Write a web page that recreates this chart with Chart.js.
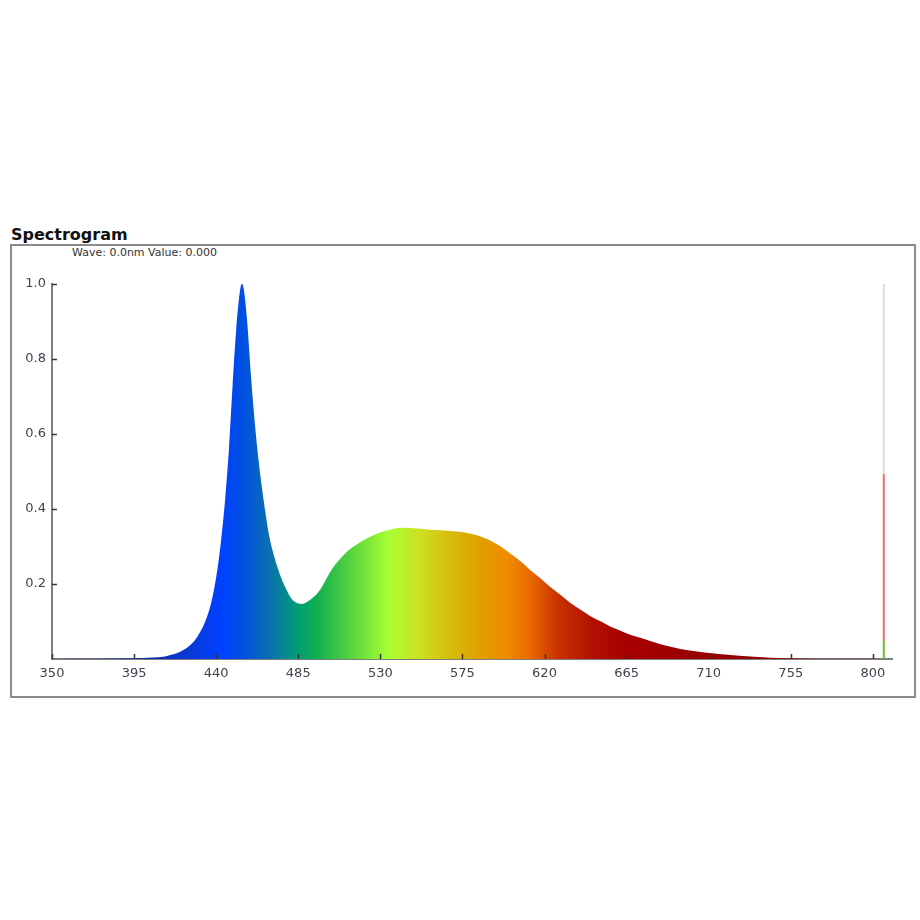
<!DOCTYPE html>
<html>
<head>
<meta charset="utf-8">
<title>Spectrogram</title>
<script src="https://cdn.jsdelivr.net/npm/chart.js@4/dist/chart.umd.min.js"></script>
<style>
  body { margin: 0; width: 920px; height: 920px; background: #fff; position: relative; overflow: hidden; }
  #frame { position: absolute; left: 10px; top: 244px; width: 906px; height: 454px; box-sizing: border-box; border: 2px solid #8c8c8c; }
  #title { position: absolute; left: 11px; top: 226px; font: bold 16px "DejaVu Sans", sans-serif; line-height: 18px; color: #111; }
  #readout { position: absolute; left: 72px; top: 246px; font: 11px "DejaVu Sans", sans-serif; line-height: 14px; color: #333; }
  canvas { position: absolute; left: 0; top: 0; }
</style>
</head>
<body>
<div id="frame"></div>
<div id="title">Spectrogram</div>
<div id="readout">Wave: 0.0nm Value: 0.000</div>
<canvas id="spectrumChart" width="920" height="920"></canvas>
<script>
// Spectrum readings (wavelength in nm, relative intensity)
const waves = [350, 395, 405, 412, 416, 420, 424, 428, 431, 434, 437, 439, 441, 443, 445, 447, 449, 451, 453, 454,
  455, 457, 459, 461, 463, 465, 467, 469, 472, 475, 478, 481, 484, 487, 490, 494, 497, 500, 503, 507, 511,
  516, 522, 528, 535, 542, 550, 557, 565, 572, 579, 585, 590, 596, 601, 607, 612, 618, 623, 629, 634, 640,
  645, 651, 656, 662, 667, 673, 678, 684, 691, 698, 709, 722, 735, 753, 770, 800, 806];
const intensity = [0, 0.002, 0.004, 0.007, 0.012, 0.019, 0.030, 0.048, 0.070, 0.100, 0.145, 0.19, 0.25, 0.33, 0.43, 0.56, 0.73, 0.88, 0.98, 1.0,
  0.99, 0.90, 0.76, 0.64, 0.54, 0.46, 0.39, 0.33, 0.27, 0.225, 0.19, 0.163, 0.150, 0.147, 0.153, 0.168, 0.185, 0.210, 0.236, 0.262, 0.283,
  0.302, 0.320, 0.334, 0.345, 0.350, 0.348, 0.345, 0.343, 0.340, 0.335, 0.327, 0.317, 0.300, 0.282, 0.260, 0.238, 0.214, 0.193, 0.170, 0.150, 0.131,
  0.115, 0.100, 0.087, 0.075, 0.065, 0.056, 0.048, 0.039, 0.031, 0.024, 0.017, 0.011, 0.006, 0.002, 0.001, 0.001, 0];

// Axis ticks
const xTicks = [350, 395, 440, 485, 530, 575, 620, 665, 710, 755, 800];
const yTicks = [0.2, 0.4, 0.6, 0.8, 1.0];

// Rainbow fill: wavelength -> colour
const colorWaves = [400, 427, 442, 455, 469, 486, 495, 512, 535, 552, 570, 585, 600, 612, 628, 647, 665, 700, 760, 811];
const colorStops = ['#0a2aa8', '#0a3ad8', '#0040ff', '#0050e0', '#0a70b0', '#00a070', '#10b050', '#50d040', '#aaff33', '#cce020',
  '#d8b808', '#e0a000', '#f08a00', '#ea6a00', '#c83000', '#b01000', '#a80000', '#9a0000', '#8a0000', '#800000'];

// Cursor marker at the right edge: stacked segments between these levels
const markerWave = 806;
const markerLevels = [0, 0.048, 0.493, 1.0];
const markerColors = ['#6cbf20', '#f06a6a', '#dcdcdc'];

function spectrumFill(context) {
    const chart = context.chart;
    const area = chart.chartArea;
    if (!area) return null;
    const xs = chart.scales.x;
    const g = chart.ctx.createLinearGradient(area.left, 0, area.right, 0);
    colorWaves.forEach((w, i) => {
        let stop = (xs.getPixelForValue(w) - area.left) / (area.right - area.left);
        stop = Math.min(1, Math.max(0, stop));
        g.addColorStop(stop, colorStops[i]);
    });
    return g;
}

// Tick marks point into the plot
const inwardTicks = {
    id: 'inwardTicks',
    afterDraw(chart) {
        const { ctx, chartArea: a, scales: { x, y } } = chart;
        ctx.save();
        ctx.strokeStyle = '#333';
        ctx.lineWidth = 1.5;
        x.ticks.forEach(t => {
            const px = Math.round(x.getPixelForValue(t.value)) + 0.5;
            ctx.beginPath();
            ctx.moveTo(px, a.bottom);
            ctx.lineTo(px, a.bottom - 5);
            ctx.stroke();
        });
        y.ticks.forEach(t => {
            const py = Math.round(y.getPixelForValue(t.value)) + 0.5;
            ctx.beginPath();
            ctx.moveTo(a.left, py);
            ctx.lineTo(a.left + 5, py);
            ctx.stroke();
        });
        ctx.restore();
    }
};

const datasets = [{
    label: 'Spectrum',
    data: waves.map((w, i) => ({ x: w, y: intensity[i] })),
    backgroundColor: spectrumFill,
    borderColor: 'transparent',
    borderWidth: 0,
    fill: 'origin',
    pointRadius: 0,
    cubicInterpolationMode: 'monotone'
}];

markerColors.forEach((c, i) => {
    datasets.push({
        label: 'marker' + i,
        data: [{ x: markerWave, y: markerLevels[i] }, { x: markerWave, y: markerLevels[i + 1] }],
        borderColor: c,
        borderWidth: 2,
        pointRadius: 0,
        fill: false
    });
});

const tickFont = { family: 'DejaVu Sans', size: 13 };

new Chart(document.getElementById('spectrumChart').getContext('2d'), {
    type: 'line',
    data: { datasets: datasets },
    options: {
        responsive: false,
        animation: false,
        layout: { padding: { left: 11, right: 28, top: 284, bottom: 231 } },
        plugins: { legend: { display: false }, tooltip: { enabled: false } },
        scales: {
            x: {
                type: 'linear',
                min: 350,
                max: 810.5,
                z: 1,
                afterBuildTicks: s => { s.ticks = xTicks.map(v => ({ value: v })); },
                afterFit: s => { s.height = 30; },
                grid: { display: false, drawTicks: false },
                border: { color: '#7f7f7f', width: 2 },
                ticks: { color: '#3d4450', font: tickFont, padding: 7, maxRotation: 0, autoSkip: false }
            },
            y: {
                min: 0,
                max: 1,
                z: 1,
                afterBuildTicks: s => { s.ticks = yTicks.map(v => ({ value: v })); },
                afterFit: s => { s.width = 41; },
                grid: { display: false, drawTicks: false },
                border: { color: '#7f7f7f', width: 2 },
                ticks: { color: '#3d4450', font: tickFont, padding: 6, callback: v => v.toFixed(1) }
            }
        }
    },
    plugins: [inwardTicks]
});
</script>
</body>
</html>
